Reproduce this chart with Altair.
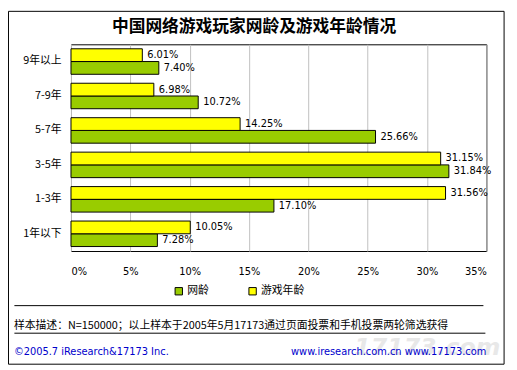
import altair as alt
import pandas as pd

categories = ["9年以上", "7-9年", "5-7年", "3-5年", "1-3年", "1年以下"]
net_age = [7.40, 10.72, 25.66, 31.84, 17.10, 7.28]
game_age = [6.01, 6.98, 14.25, 31.15, 31.56, 10.05]
series_names = ["网龄", "游戏年龄"]
series_colors = ["#99CC00", "#FFFF00"]
x_ticks = [0, 5, 10, 15, 20, 25, 30, 35]

title_text = "中国网络游戏玩家网龄及游戏年龄情况"
note_text = "样本描述：N=150000；以上样本于2005年5月17173通过页面投票和手机投票两轮筛选获得"
footer_left = "©2005.7  iResearch&17173 Inc."
footer_right = "www.iresearch.com.cn   www.17173.com"
watermark = "17173.com"

rows = []
for c, n, g in zip(categories, net_age, game_age):
    rows.append({"category": c, "series": "网龄", "value": n, "label": f"{n:.2f}%"})
    rows.append({"category": c, "series": "游戏年龄", "value": g, "label": f"{g:.2f}%"})
df = pd.DataFrame(rows)
one = pd.DataFrame({"a": [0]})

CJK = "Noto Sans CJK SC"
LAT = "DejaVu Sans"

y_enc = alt.Y("category:N", sort=categories,
              scale=alt.Scale(paddingInner=0.26, paddingOuter=0.13),
              axis=alt.Axis(title=None, ticks=False, domain=False, grid=False,
                            labelPadding=10, labelFont=CJK, labelFontSize=11,
                            labelColor="black"))
yoff_enc = alt.YOffset("series:N", sort=["游戏年龄", "网龄"],
                       scale=alt.Scale(paddingInner=0, paddingOuter=0))
x_enc = alt.X("value:Q", scale=alt.Scale(domain=[0, 35], nice=False),
              axis=alt.Axis(values=x_ticks, labelExpr="datum.value + '%'", title=None,
                            grid=True, gridColor="#c0c0c0", gridWidth=1, ticks=False,
                            domain=False, labelPadding=16, labelFont=LAT,
                            labelFontSize=10, labelColor="black"))

bars = alt.Chart(df).mark_bar(stroke="black", strokeWidth=1).encode(
    x=x_enc, y=y_enc, yOffset=yoff_enc,
    color=alt.Color("series:N",
                    scale=alt.Scale(domain=series_names, range=series_colors),
                    legend=alt.Legend(orient="none", legendX=104, legendY=245,
                                      direction="horizontal", columns=2, title=None,
                                      symbolType="square", symbolSize=56,
                                      symbolStrokeColor="black", symbolStrokeWidth=1,
                                      labelFont=CJK, labelFontSize=11, labelColor="black",
                                      columnPadding=38, labelOffset=3)),
)

labels = alt.Chart(df).mark_text(align="left", baseline="middle", dx=5,
                                 font=LAT, fontSize=10, color="black").encode(
    x="value:Q", y=alt.Y("category:N", sort=categories), yOffset=yoff_enc,
    text="label:N")


def txt(s, x, y, **kw):
    return alt.Chart(one).mark_text(**kw).encode(
        x=alt.value(x), y=alt.value(y), text=alt.value(s))


def hrule(x1, x2, y, **kw):
    return alt.Chart(one).mark_rule(**kw).encode(
        x=alt.value(x1), x2=alt.value(x2), y=alt.value(y))


frame = alt.Chart(one).mark_rect(fillOpacity=0, stroke="black", strokeWidth=1).encode(
    x=alt.value(-63.5), x2=alt.value(440), y=alt.value(-33.5), y2=alt.value(325))

layers = [
    frame,
    bars,
    labels,
    txt(title_text, 186, -17, font=CJK, fontSize=17, fontWeight="bold",
        align="center", baseline="middle", color="black"),
    hrule(-57.5, 419, 265.5, color="black", strokeWidth=1),
    hrule(-57.5, 421, 293.5, color="black", strokeWidth=1),
    txt(note_text, -58, 286, font=CJK, fontSize=11, align="left",
        baseline="middle", color="black"),
    txt(watermark, 362, 309, font=LAT, fontSize=24, fontWeight="bold",
        fontStyle="italic", align="center", baseline="middle", color="#e8e8e8"),
    txt(footer_left, -58, 313, font=LAT, fontSize=10, align="left",
        baseline="middle", color="#0000CC"),
    txt(footer_right, 422, 313, font=LAT, fontSize=10, align="right",
        baseline="middle", color="#0000CC"),
]

chart = alt.layer(*layers).properties(
    width=422, height=210,
    autosize=alt.AutoSizeParams(type="none"),
    padding={"left": 64, "top": 34, "right": 23, "bottom": 118},
    background="white",
).configure_view(stroke="black", strokeWidth=1)

chart.save("out.html", embed_options={"renderer": "svg", "actions": False})
